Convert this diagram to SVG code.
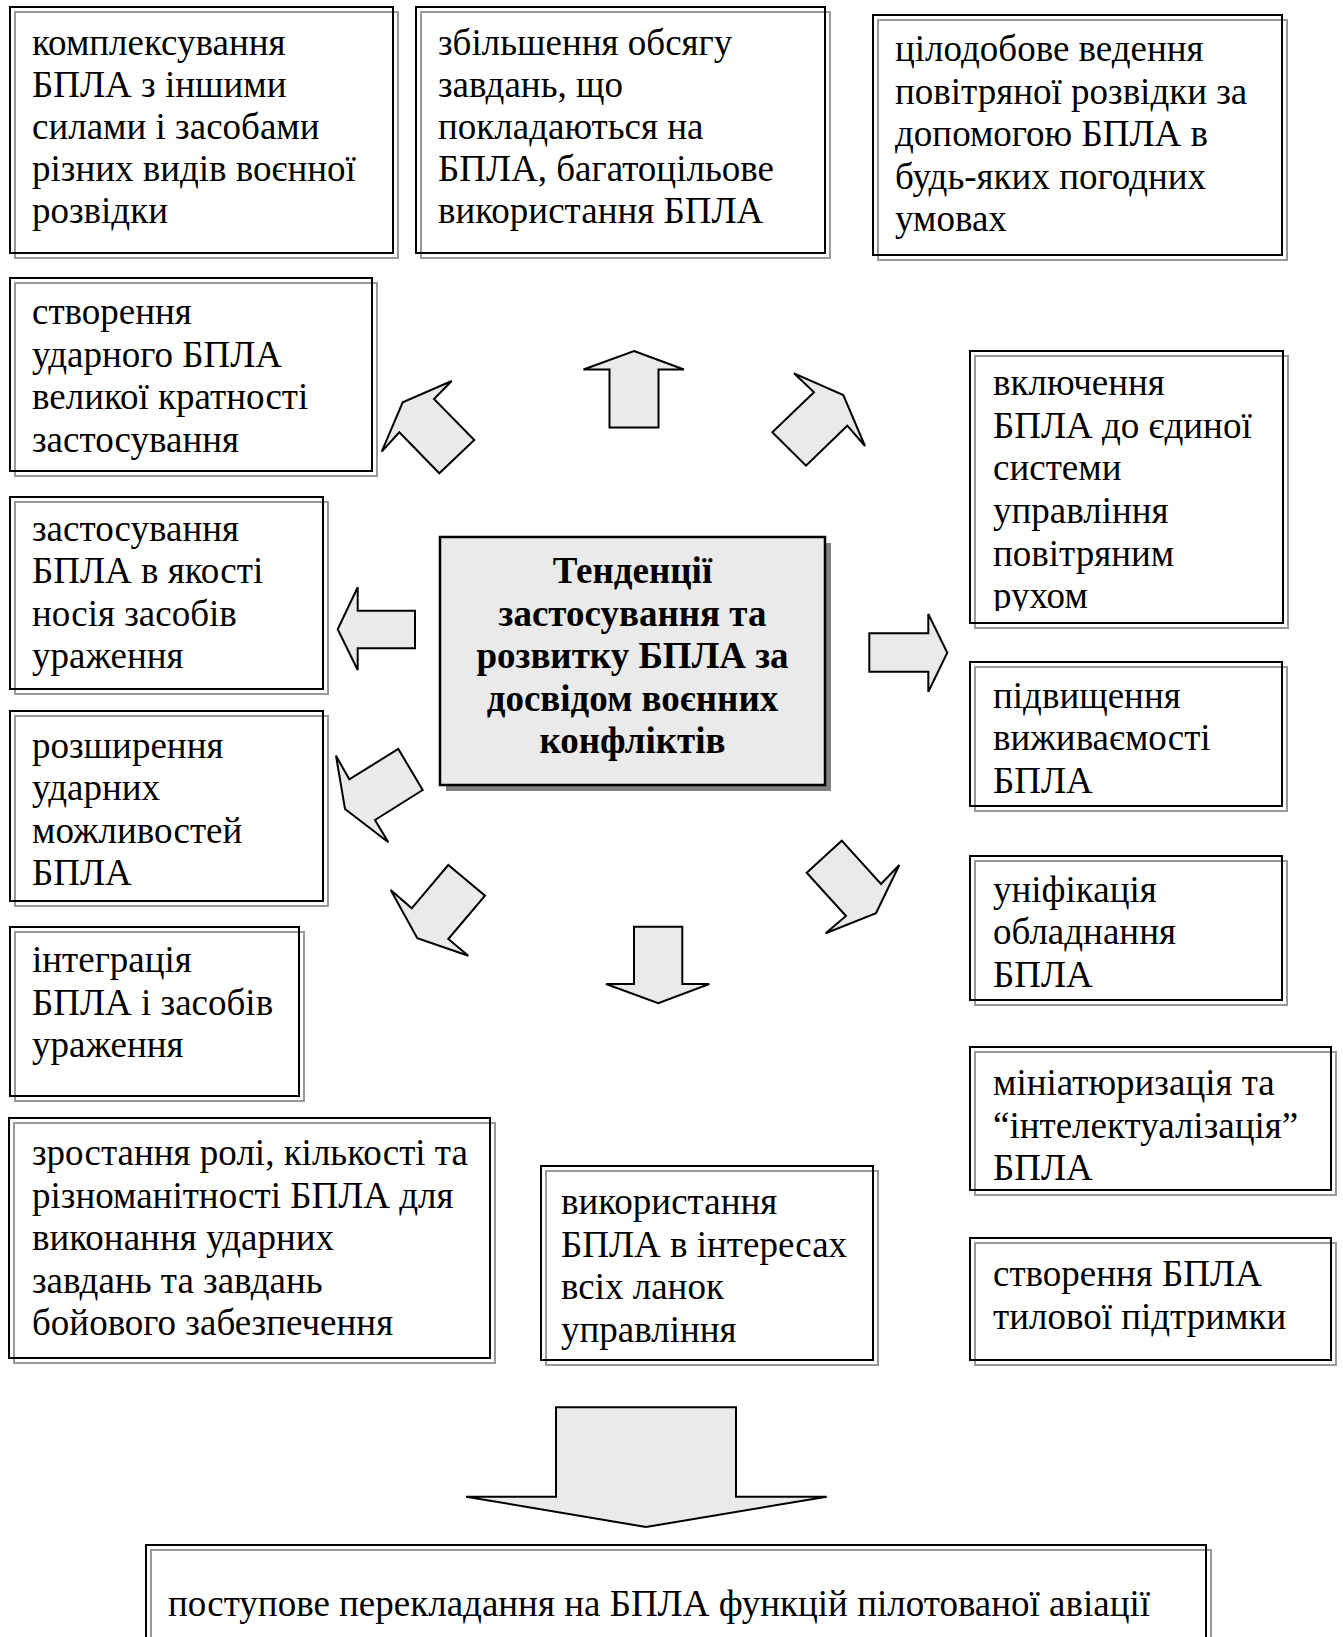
<svg xmlns="http://www.w3.org/2000/svg" width="1343" height="1637" viewBox="0 0 1343 1637">
<style>
.b{fill:none;stroke:#000;stroke-width:2}
.g{fill:none;stroke:#999;stroke-width:2}
.t{font-family:"Liberation Serif","Times New Roman",serif;font-size:37px;fill:#000}
.tb{font-family:"Liberation Serif","Times New Roman",serif;font-size:37px;font-weight:bold;fill:#000;text-anchor:middle}
.ar{fill:#eaeaea;stroke:#000;stroke-width:2;stroke-linejoin:miter}
</style>
<defs>
<clipPath id="clipR1"><rect x="970" y="351" width="313" height="260"/></clipPath>
</defs>
<rect x="0" y="0" width="1343" height="1637" fill="#fff"/>

<g id="n-kompleks">
<rect class="g" x="15" y="12" width="383" height="246"/>
<rect class="b" x="10" y="7" width="383" height="246"/>
<text class="t"><tspan x="32" y="55">комплексування</tspan><tspan x="32" y="97">БПЛА з іншими</tspan><tspan x="32" y="139">силами і засобами</tspan><tspan x="32" y="181">різних видів воєнної</tspan><tspan x="32" y="223">розвідки</tspan></text>
</g>

<g id="n-zbilshennia">
<rect class="g" x="421" y="12" width="409" height="246"/>
<rect class="b" x="416" y="7" width="409" height="246"/>
<text class="t"><tspan x="438" y="55">збільшення обсягу</tspan><tspan x="438" y="97">завдань, що</tspan><tspan x="438" y="139">покладаються на</tspan><tspan x="438" y="181">БПЛА, багатоцільове</tspan><tspan x="438" y="223">використання БПЛА</tspan></text>
</g>

<g id="n-tsilodobove">
<rect class="g" x="878" y="20" width="409" height="240"/>
<rect class="b" x="873" y="15" width="409" height="240"/>
<text class="t"><tspan x="895" y="61">цілодобове ведення</tspan><tspan x="895" y="103.5">повітряної розвідки за</tspan><tspan x="895" y="146">допомогою БПЛА в</tspan><tspan x="895" y="188.5">будь-яких погодних</tspan><tspan x="895" y="231">умовах</tspan></text>
</g>

<g id="n-udarnyi">
<rect class="g" x="15" y="283" width="362" height="193"/>
<rect class="b" x="10" y="278" width="362" height="193"/>
<text class="t"><tspan x="32" y="324">створення</tspan><tspan x="32" y="366.5">ударного БПЛА</tspan><tspan x="32" y="409">великої кратності</tspan><tspan x="32" y="451.5">застосування</tspan></text>
</g>

<g id="n-nosii">
<rect class="g" x="15" y="502" width="313" height="192"/>
<rect class="b" x="10" y="497" width="313" height="192"/>
<text class="t"><tspan x="32" y="540.5">застосування</tspan><tspan x="32" y="583">БПЛА в якості</tspan><tspan x="32" y="625.5">носія засобів</tspan><tspan x="32" y="668">ураження</tspan></text>
</g>

<g id="n-rozshyrennia">
<rect class="g" x="15" y="716" width="313" height="190"/>
<rect class="b" x="10" y="711" width="313" height="190"/>
<text class="t"><tspan x="32" y="757.5">розширення</tspan><tspan x="32" y="800">ударних</tspan><tspan x="32" y="842.5">можливостей</tspan><tspan x="32" y="885">БПЛА</tspan></text>
</g>

<g id="n-intehratsiia">
<rect class="g" x="15" y="932" width="289" height="169"/>
<rect class="b" x="10" y="927" width="289" height="169"/>
<text class="t"><tspan x="32" y="972">інтеграція</tspan><tspan x="32" y="1014.5">БПЛА і засобів</tspan><tspan x="32" y="1057">ураження</tspan></text>
</g>

<g id="n-zrostannia">
<rect class="g" x="14" y="1123" width="481" height="240"/>
<rect class="b" x="9" y="1118" width="481" height="240"/>
<text class="t"><tspan x="32" y="1165">зростання ролі, кількості та</tspan><tspan x="32" y="1207.5">різноманітності БПЛА для</tspan><tspan x="32" y="1250">виконання ударних</tspan><tspan x="32" y="1292.5">завдань та завдань</tspan><tspan x="32" y="1335">бойового забезпечення</tspan></text>
</g>

<g id="n-vykorystannia">
<rect class="g" x="546" y="1171" width="332" height="194"/>
<rect class="b" x="541" y="1166" width="332" height="194"/>
<text class="t"><tspan x="561" y="1214">використання</tspan><tspan x="561" y="1256.5">БПЛА в інтересах</tspan><tspan x="561" y="1299">всіх ланок</tspan><tspan x="561" y="1341.5">управління</tspan></text>
</g>

<g id="n-center">
<rect x="446" y="543" width="385" height="248" fill="#808080"/>
<rect x="440" y="537" width="385" height="248" fill="#eaeaea" stroke="#000" stroke-width="2.5"/>
<text class="tb"><tspan x="632.5" y="583">Тенденції</tspan><tspan x="632.5" y="625.5">застосування та</tspan><tspan x="632.5" y="668">розвитку БПЛА за</tspan><tspan x="632.5" y="710.5">досвідом воєнних</tspan><tspan x="632.5" y="753">конфліктів</tspan></text>
</g>

<g id="n-vkliuchennia">
<rect class="g" x="975" y="356" width="313" height="272"/>
<rect class="b" x="970" y="351" width="313" height="272"/>
<text class="t" clip-path="url(#clipR1)"><tspan x="993" y="395">включення</tspan><tspan x="993" y="437.7">БПЛА до єдиної</tspan><tspan x="993" y="480.4">системи</tspan><tspan x="993" y="523">управління</tspan><tspan x="993" y="565.7">повітряним</tspan><tspan x="993" y="608.4">рухом</tspan></text>
</g>

<g id="n-pidvyshchennia">
<rect class="g" x="975" y="667" width="312" height="144"/>
<rect class="b" x="970" y="662" width="312" height="144"/>
<text class="t"><tspan x="993" y="707.5">підвищення</tspan><tspan x="993" y="750">виживаємості</tspan><tspan x="993" y="792.5">БПЛА</tspan></text>
</g>

<g id="n-unifikatsiia">
<rect class="g" x="975" y="861" width="312" height="144"/>
<rect class="b" x="970" y="856" width="312" height="144"/>
<text class="t"><tspan x="993" y="901.5">уніфікація</tspan><tspan x="993" y="944">обладнання</tspan><tspan x="993" y="986.5">БПЛА</tspan></text>
</g>

<g id="n-miniatiuryzatsiia">
<rect class="g" x="975" y="1052" width="361" height="143"/>
<rect class="b" x="970" y="1047" width="361" height="143"/>
<text class="t"><tspan x="993" y="1095">мініатюризація та</tspan><tspan x="993" y="1137.5">“інтелектуалізація”</tspan><tspan x="993" y="1180">БПЛА</tspan></text>
</g>

<g id="n-tylova">
<rect class="g" x="975" y="1243" width="361" height="122"/>
<rect class="b" x="970" y="1238" width="361" height="122"/>
<text class="t"><tspan x="993" y="1286">створення БПЛА</tspan><tspan x="993" y="1328.5">тилової підтримки</tspan></text>
</g>

<g id="n-postupove">
<rect class="g" x="151" y="1550" width="1060" height="110"/>
<rect class="b" x="146" y="1545" width="1060" height="110"/>
<text class="t"><tspan x="168" y="1616">поступове перекладання на БПЛА функцій пілотованої авіації</tspan></text>
</g>

<g id="connectors">
<polygon class="ar" points="381.7,451.7 402.7,402.3 451.7,381 434,399 474.3,440 439.3,473.3 399.3,432.3"/>
<polygon class="ar" points="634,351 684,369.5 658.5,369.5 658.5,427.5 609.5,427.5 609.5,369.5 583.5,369.5"/>
<polygon class="ar" points="794,373.3 843.3,395 865,446 847.3,425.7 806,465.7 772.3,432.3 814,392.3"/>
<polygon class="ar" points="337.7,629.3 357.7,587.3 357.7,610.7 415,610.7 415,648.3 357.7,648.3 357.7,670"/>
<polygon class="ar" points="869.3,633.3 928.3,633.3 928.3,614 947.3,652.7 928.3,691.7 928.3,671.7 869.3,671.7"/>
<polygon class="ar" points="336,755.7 349.3,779.3 398.3,749 422.7,790 375,820 388.3,842.3 345,809"/>
<polygon class="ar" points="390.7,890 411.7,908.3 448.3,865 485,895.7 448.3,939 468.3,955.7 417.3,938.3"/>
<polygon class="ar" points="634,926.7 682.3,926.7 682.3,984 709.3,984 658.3,1003.3 606,984 634,984"/>
<polygon class="ar" points="841.7,840.7 881,884 899.3,865 876,913.3 825.7,933.3 846,916 806.7,872.7"/>
<polygon class="ar" points="556,1407.3 736,1407.3 736,1496.7 826.7,1496.7 646,1527 466,1496.7 556,1496.7"/>
</g>
</svg>
